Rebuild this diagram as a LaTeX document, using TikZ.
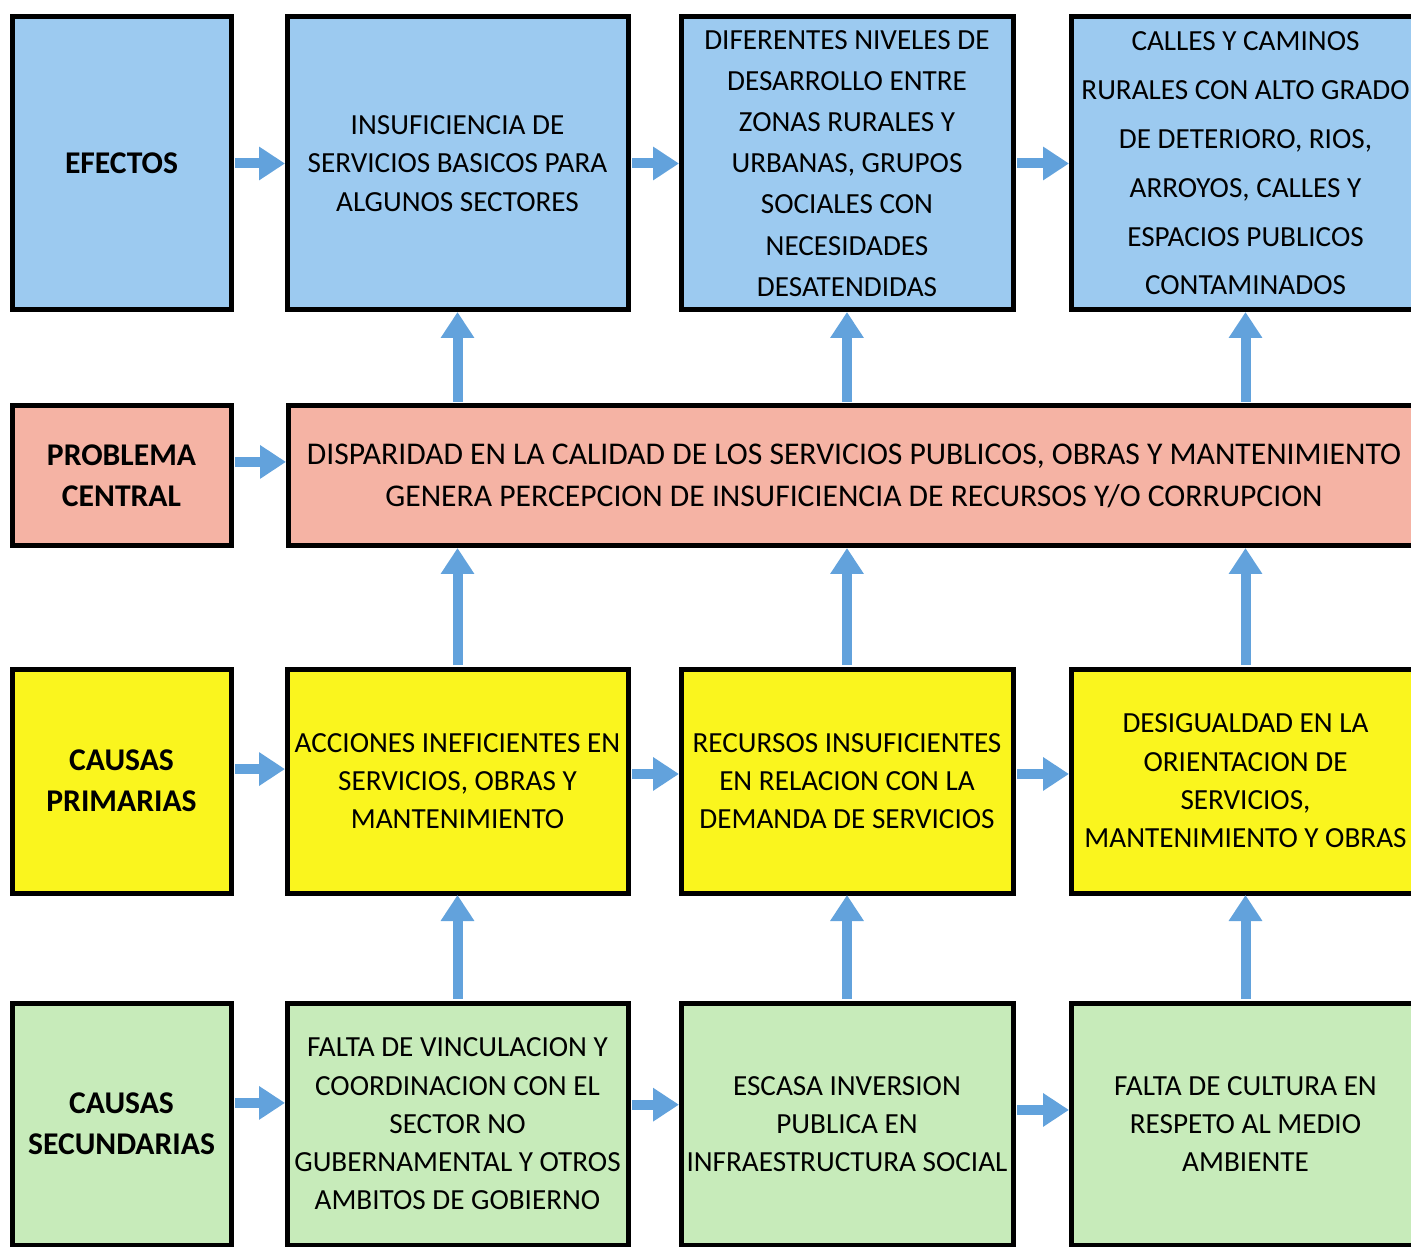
\documentclass[tikz,border=0pt]{standalone}
\usepackage{fontspec}
\setmainfont{Carlito}
\usetikzlibrary{arrows.meta}
\definecolor{azul}{HTML}{9CCAF0}
\definecolor{salmon}{HTML}{F5B3A4}
\definecolor{amarillo}{HTML}{FAF51E}
\definecolor{verde}{HTML}{C7EBBA}
\definecolor{flechaazul}{HTML}{62A2DC}

\begin{document}
\begin{tikzpicture}[x=0.1mm,y=-0.1mm,
  caja/.style={draw=black,line width=0.5mm,inner sep=0pt,outer sep=0pt,align=center,
    font=\fontsize{8.3}{10.9}\selectfont},
  titulo/.style={caja,font=\fontsize{9}{11.7}\selectfont\bfseries},
  flecha/.style={draw=flechaazul,line width=1mm,shorten <=0.4mm,shorten >=0.2mm,
    -{Triangle[width=3.2mm,length=2.6mm]}}]
\useasboundingbox (0,0) rectangle (1411,1247);

\node[titulo,fill=azul,minimum width=21.9mm,minimum height=29.3mm] (ef) at (121.5,163.5) {EFECTOS};
\node[caja,fill=azul,minimum width=34.1mm,minimum height=29.3mm] (ins) at (457.5,163.5)
  {INSUFICIENCIA DE\\SERVICIOS BASICOS PARA\\ALGUNOS SECTORES};
\node[caja,fill=azul,minimum width=33.2mm,minimum height=29.3mm,
  font=\fontsize{8.3}{11.7}\selectfont] (dif) at (847,163.5)
  {DIFERENTES NIVELES DE\\DESARROLLO ENTRE\\ZONAS RURALES Y\\URBANAS, GRUPOS\\SOCIALES CON\\NECESIDADES\\DESATENDIDAS};
\node[caja,fill=azul,minimum width=34.9mm,minimum height=29.3mm,
  font=\fontsize{8.3}{13.9}\selectfont] (cal) at (1245.5,163.5)
  {CALLES Y CAMINOS\\RURALES CON ALTO GRADO\\DE DETERIORO, RIOS,\\ARROYOS, CALLES Y\\ESPACIOS PUBLICOS\\CONTAMINADOS};

\node[titulo,fill=salmon,minimum width=21.9mm,minimum height=14mm] (pc) at (121.5,476) {PROBLEMA\\CENTRAL};
\node[caja,fill=salmon,minimum width=113.2mm,minimum height=14mm,
  font=\fontsize{9}{12}\selectfont] (disp) at (854,476)
  {DISPARIDAD EN LA CALIDAD DE LOS SERVICIOS PUBLICOS, OBRAS Y MANTENIMIENTO\\GENERA PERCEPCION DE INSUFICIENCIA DE RECURSOS Y/O CORRUPCION};

\node[titulo,fill=amarillo,minimum width=21.9mm,minimum height=22.4mm] (cp) at (121.5,781) {CAUSAS\\PRIMARIAS};
\node[caja,fill=amarillo,minimum width=34.1mm,minimum height=22.4mm] (acc) at (457.5,781)
  {ACCIONES INEFICIENTES EN\\SERVICIOS, OBRAS Y\\MANTENIMIENTO};
\node[caja,fill=amarillo,minimum width=33.2mm,minimum height=22.4mm] (rec) at (847,781)
  {RECURSOS INSUFICIENTES\\EN RELACION CON LA\\DEMANDA DE SERVICIOS};
\node[caja,fill=amarillo,minimum width=34.9mm,minimum height=22.4mm] (des) at (1245.5,781)
  {DESIGUALDAD EN LA\\ORIENTACION DE\\SERVICIOS,\\MANTENIMIENTO Y OBRAS};

\node[titulo,fill=verde,minimum width=21.9mm,minimum height=24.2mm] (cs) at (121.5,1124) {CAUSAS\\SECUNDARIAS};
\node[caja,fill=verde,minimum width=34.1mm,minimum height=24.2mm] (fal) at (457.5,1124)
  {FALTA DE VINCULACION Y\\COORDINACION CON EL\\SECTOR NO\\GUBERNAMENTAL Y OTROS\\AMBITOS DE GOBIERNO};
\node[caja,fill=verde,minimum width=33.2mm,minimum height=24.2mm] (esc) at (847,1124)
  {ESCASA INVERSION\\PUBLICA EN\\INFRAESTRUCTURA SOCIAL};
\node[caja,fill=verde,minimum width=34.9mm,minimum height=24.2mm] (cul) at (1245.5,1124)
  {FALTA DE CULTURA EN\\RESPETO AL MEDIO\\AMBIENTE};

\draw[flecha] (ef) -- (ins);
\draw[flecha] (ins) -- (dif);
\draw[flecha] (dif) -- (cal);
\draw[flecha] ([yshift=4pt]pc.east) -- ([yshift=4pt]pc.east -| disp.west);
\draw[flecha] ([yshift=3.4pt]cp.east) -- ([yshift=3.4pt]acc.west);
\draw[flecha] ([yshift=2pt]acc.east) -- ([yshift=2pt]rec.west);
\draw[flecha] ([yshift=2pt]rec.east) -- ([yshift=2pt]des.west);
\draw[flecha] ([yshift=6pt]cs.east) -- ([yshift=6pt]fal.west);
\draw[flecha] ([yshift=5.5pt]fal.east) -- ([yshift=5.5pt]esc.west);
\draw[flecha] ([yshift=4pt]esc.east) -- ([yshift=4pt]cul.west);

\draw[flecha] (ins.south |- disp.north) -- (ins.south);
\draw[flecha] (dif.south |- disp.north) -- (dif.south);
\draw[flecha] (cal.south |- disp.north) -- (cal.south);
\draw[flecha] (acc.north) -- (acc.north |- disp.south);
\draw[flecha] (rec.north) -- (rec.north |- disp.south);
\draw[flecha] (des.north) -- (des.north |- disp.south);
\draw[flecha] (fal.north) -- (fal.south |- acc.south);
\draw[flecha] (esc.north) -- (esc.south |- rec.south);
\draw[flecha] (cul.north) -- (cul.south |- des.south);
\end{tikzpicture}
\end{document}
